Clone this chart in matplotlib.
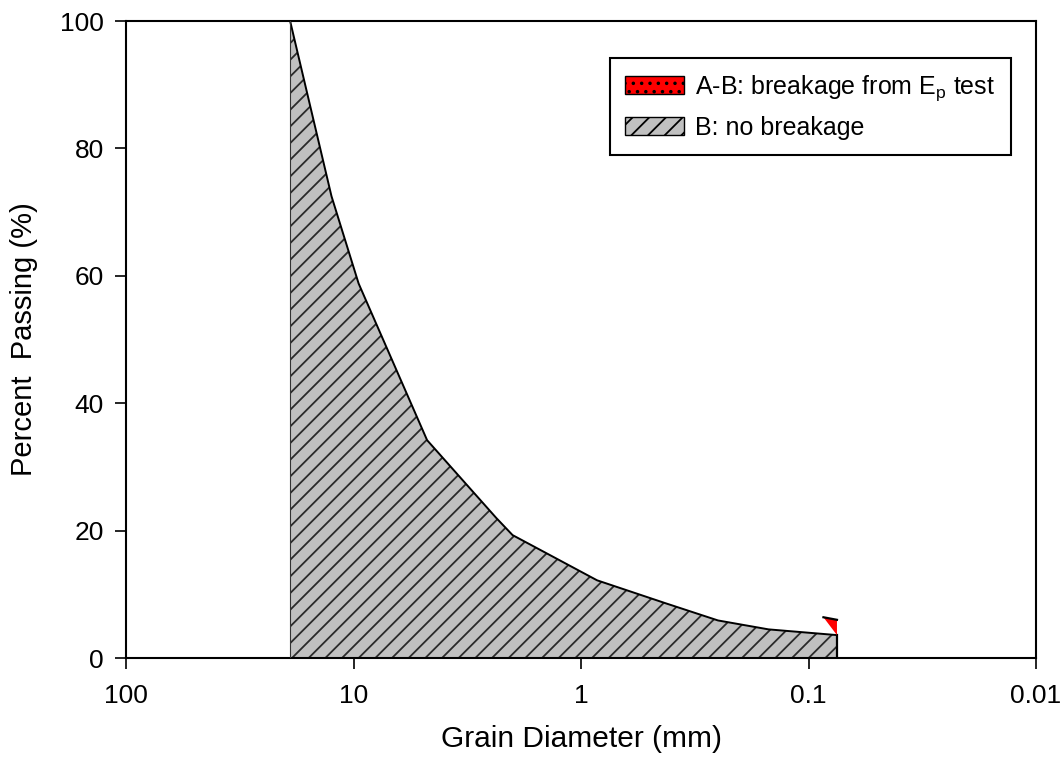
import matplotlib
matplotlib.use('Agg')
import matplotlib.pyplot as plt
from matplotlib.patches import Patch
from matplotlib.ticker import FixedLocator, NullLocator
import numpy as np

plt.rcParams['font.family'] = ['Liberation Sans', 'DejaVu Sans']
plt.rcParams['hatch.linewidth'] = 1.3

# gradation B (no breakage)
diam_b = [19.0, 12.5, 9.5, 4.75, 2.36, 2.0, 0.85, 0.425, 0.25, 0.15, 0.075]
pass_b = [100.0, 72.5, 58.8, 34.2, 22.0, 19.3, 12.2, 8.6, 5.9, 4.5, 3.6]

# A-B difference (breakage from Ep test), only visible at the fine end
diam_ab = [0.086, 0.075, 0.075]
pass_ab = [6.4, 6.0, 3.6]

x_ticks = [100, 10, 1, 0.1, 0.01]
x_labels = ['100', '10', '1', '0.1', '0.01']
y_ticks = [0, 20, 40, 60, 80, 100]

fig = plt.figure(figsize=(10.6, 7.61), dpi=100)
ax = fig.add_axes([0.1189, 0.1353, 0.8585, 0.8371])

# hatched gray area under B
ax.fill_between(diam_b, pass_b, 0, facecolor='#c0c0c0', edgecolor='#2a2a2a',
                hatch='//', linewidth=0, zorder=2)
ax.plot(diam_b, pass_b, color='black', lw=1.4, zorder=3)
ax.plot([diam_b[0], diam_b[0]], [0, pass_b[0]], color='#333333', lw=0.8, zorder=3)
ax.plot([diam_b[-1], diam_b[-1]], [0, pass_b[-1]], color='black', lw=1.6, zorder=3)

# red A-B piece
ax.fill(diam_ab, pass_ab, facecolor='red', edgecolor='none', zorder=3)
ax.plot(diam_ab[:2], pass_ab[:2], color='black', lw=1.6, zorder=4)

ax.set_xscale('log')
ax.set_xlim(100, 0.01)
ax.set_ylim(0, 100)
ax.xaxis.set_major_locator(FixedLocator(x_ticks))
ax.xaxis.set_minor_locator(NullLocator())
ax.set_xticklabels(x_labels)
ax.set_yticks(y_ticks)

ax.tick_params(axis='both', direction='out', length=8, width=1.2, labelsize=19)
ax.tick_params(axis='x', pad=11)
ax.tick_params(axis='y', pad=8)
for s in ax.spines.values():
    s.set_linewidth(1.5)

ax.set_xlabel('Grain Diameter (mm)', fontsize=21.5, labelpad=12)
ax.set_ylabel('Percent  Passing (%)', fontsize=21, labelpad=16)

handles = [
    Patch(facecolor='red', edgecolor='black', hatch='..', linewidth=1.0),
    Patch(facecolor='#c0c0c0', edgecolor='black', hatch='//', linewidth=1.0),
]
labels = ['A-B: breakage from E$_\\mathregular{p}$ test', 'B: no breakage']
leg = ax.legend(handles, labels, loc='upper right', bbox_to_anchor=(0.9725, 0.942),
                borderaxespad=0, fontsize=18, frameon=True, fancybox=False,
                framealpha=1, edgecolor='black', handlelength=2.35,
                handleheight=0.72, handletextpad=0.45, labelspacing=0.5,
                borderpad=0.62)
leg.get_frame().set_linewidth(1.5)

fig.savefig('out.png', dpi=100)
